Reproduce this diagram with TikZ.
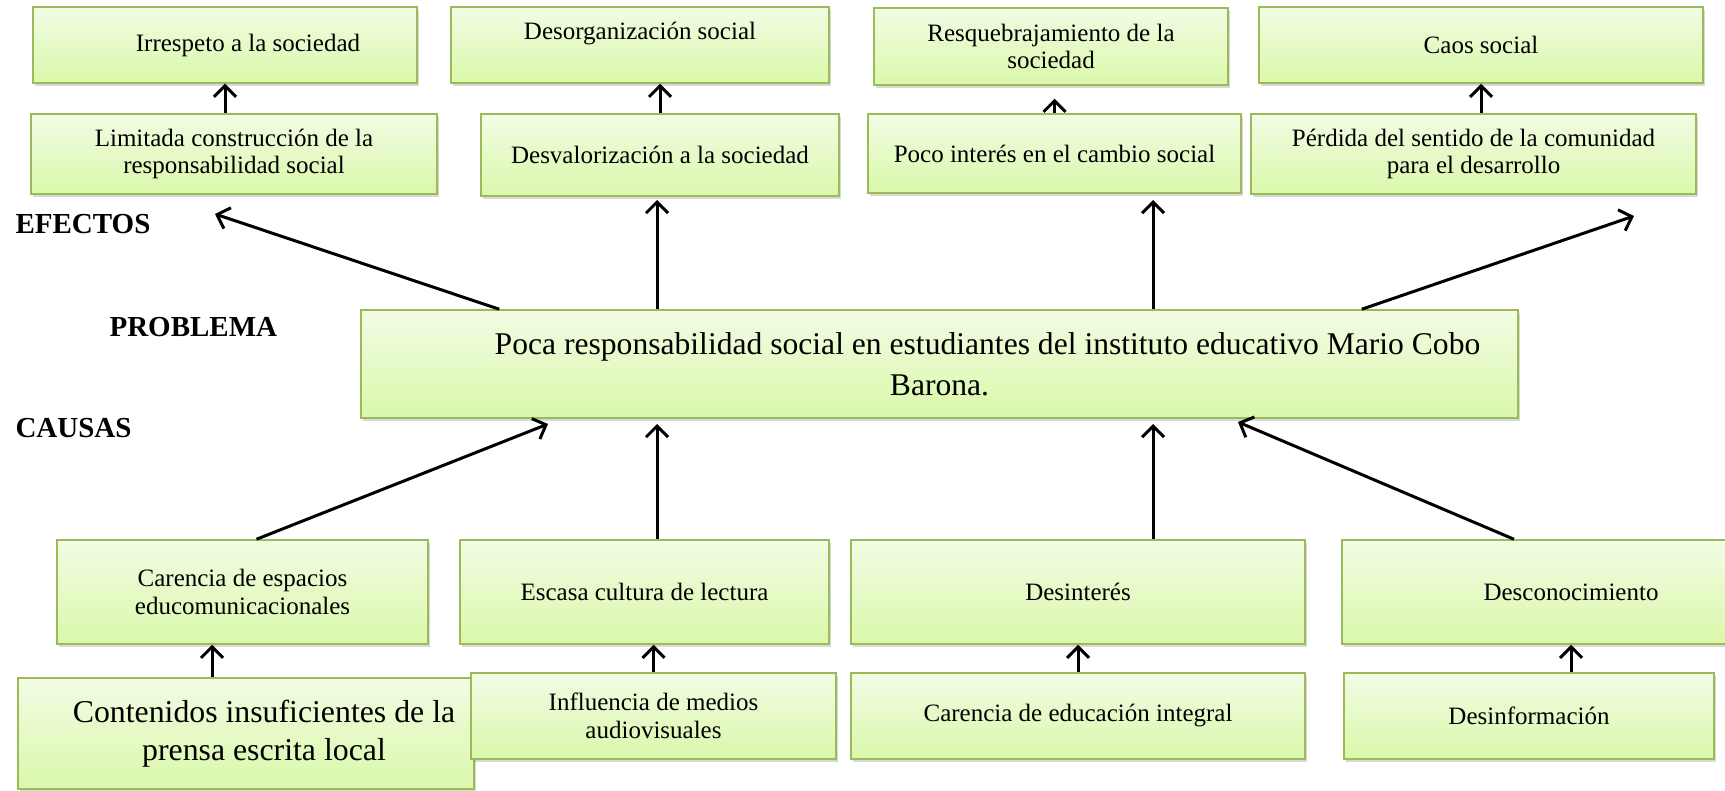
\documentclass[tikz,border=0pt]{standalone}
\usepackage{fontspec}
\setmainfont{Liberation Serif}
\usetikzlibrary{arrows.meta,shadows}

\definecolor{bordeverde}{RGB}{155,187,89}
\definecolor{verdearriba}{RGB}{242,252,228}
\definecolor{verdeabajo}{RGB}{218,248,170}

\begin{document}
\begin{tikzpicture}[x=1pt,y=-1pt,
    caja/.style={draw=bordeverde, line width=1.5pt, top color=verdearriba, bottom color=verdeabajo,
        align=center, inner sep=0pt, font=\fontsize{25}{27.5}\selectfont,
        drop shadow={shadow xshift=1.5pt, shadow yshift=-3pt, opacity=0.3}},
    tam/.style 2 args={minimum width=#1pt, minimum height=#2pt},
    flecha/.style={line width=3pt, -{Straight Barb[length=11pt,width=22pt]}},
    etiqueta/.style={anchor=west, font=\fontsize{29}{32}\selectfont\bfseries}]
    \clip (0,0) rectangle (1725,791);

    % efectos
    \node[caja, tam={384}{76}] (irr) at (225,45) {\hspace*{46pt}Irrespeto a la sociedad};
    \node[caja, tam={378}{76}] (deso) at (640,45) {Desorganización social\\\mbox{}};
    \node[caja, tam={354}{77}] (resq) at (1051,46.5) {Resquebrajamiento de la\\sociedad};
    \node[caja, tam={444}{76}] (caos) at (1481,45) {Caos social};

    \node[caja, tam={406}{80}] (lim) at (234,154) {Limitada construcción de la\\responsabilidad social};
    \node[caja, tam={358}{82}] (desv) at (660,155) {Desvalorización a la sociedad};
    \node[caja, tam={373}{79}] (poco) at (1054.5,153.5) {Poco interés en el cambio social};
    \node[caja, tam={445}{80}] (perd) at (1473.5,154) {Pérdida del sentido de la comunidad\\para el desarrollo};

    \draw[flecha] (lim.north -| irr.south) -- (irr.south);
    \draw[flecha] (desv.north) -- (desv.north |- deso.south);
    \draw[flecha, shorten >=13pt] (poco.north) -- (poco.north |- resq.south);
    \draw[flecha] (perd.north -| caos.south) -- (caos.south);

    % problema
    \node[etiqueta] (efectos) at (12,224) {EFECTOS};
    \node[etiqueta] (problema) at (106,327) {PROBLEMA};
    \node[etiqueta] (causas) at (12,428) {CAUSAS};

    \node[caja, tam={1157}{108}, font=\fontsize{31.6}{41}\selectfont] (cen) at (939.5,364)
        {\hspace*{96pt}Poca responsabilidad social en estudiantes del instituto educativo Mario Cobo\\Barona.};

    \coordinate (p1) at (215,214);
    \coordinate (p2) at (657,200);
    \coordinate (p3) at (1153,200);
    \coordinate (p4) at (1634,216);
    \draw[flecha] ([xshift=139pt]cen.north west) -- (p1);
    \draw[flecha] (cen.north -| p2) -- (p2);
    \draw[flecha] (cen.north -| p3) -- (p3);
    \draw[flecha] ([xshift=-157pt]cen.north east) -- (p4);

    % causas
    \node[caja, tam={371}{104}] (car) at (242.5,592) {Carencia de espacios\\educomunicacionales};
    \node[caja, tam={369}{104}] (esc) at (644.5,592) {Escasa cultura de lectura};
    \node[caja, tam={454}{104}] (desint) at (1078,592) {Desinterés};
    \node[caja, tam={458}{104}] (descon) at (1571,592) {Desconocimiento};

    \node[caja, tam={456}{111}, font=\fontsize{31.8}{38}\selectfont] (cont) at (246,733.5)
        {\hspace*{36pt}Contenidos insuficientes de la\\\hspace*{36pt}prensa escrita local};
    \node[caja, tam={365}{86}] (infl) at (653.5,716) {Influencia de medios\\audiovisuales};
    \node[caja, tam={454}{86}] (carint) at (1078,716) {Carencia de educación integral};
    \node[caja, tam={370}{86}] (desinf) at (1529,716) {Desinformación};

    \coordinate (c1) at (212,0);
    \draw[flecha] (cont.north -| c1) -- (car.south -| c1);
    \draw[flecha] (infl.north) -- (infl.north |- esc.south);
    \draw[flecha] (carint) -- (desint);
    \draw[flecha] (desinf.north -| descon.south) -- (descon.south);

    \coordinate (q1) at (548,424);
    \coordinate (q2) at (657,424);
    \coordinate (q3) at (1153,424);
    \coordinate (q4) at (1238,422);
    \draw[flecha] ([xshift=14pt]car.north) -- (q1);
    \draw[flecha] (esc.north -| q2) -- (q2);
    \draw[flecha] (desint.north -| q3) -- (q3);
    \draw[flecha] ([xshift=-57pt]descon.north) -- (q4);
\end{tikzpicture}
\end{document}
